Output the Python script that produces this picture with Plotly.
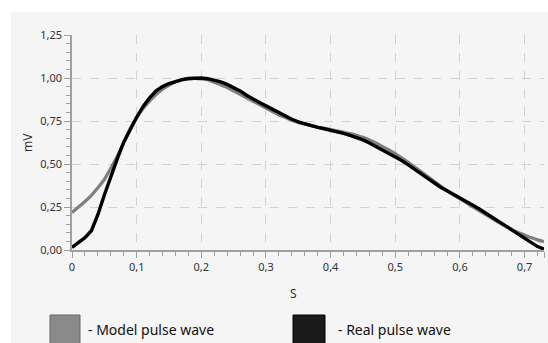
import plotly.graph_objects as go

# Time axis (seconds) shared by both waves
t = [0.00, 0.01, 0.02, 0.03, 0.04, 0.05, 0.06, 0.07, 0.08, 0.09,
     0.10, 0.11, 0.12, 0.13, 0.14, 0.15, 0.16, 0.17, 0.18, 0.19,
     0.20, 0.21, 0.22, 0.23, 0.24, 0.25, 0.26, 0.27, 0.28, 0.29,
     0.30, 0.31, 0.32, 0.33, 0.34, 0.35, 0.36, 0.37, 0.38, 0.39,
     0.40, 0.41, 0.42, 0.43, 0.44, 0.45, 0.46, 0.47, 0.48, 0.49,
     0.50, 0.51, 0.52, 0.53, 0.54, 0.55, 0.56, 0.57, 0.58, 0.59,
     0.60, 0.61, 0.62, 0.63, 0.64, 0.65, 0.66, 0.67, 0.68, 0.69,
     0.70, 0.71, 0.72, 0.73]

# Model pulse wave (mV)
model_wave = [0.218, 0.250, 0.282, 0.318, 0.362, 0.410, 0.475, 0.545, 0.625, 0.705,
              0.770, 0.822, 0.865, 0.903, 0.935, 0.958, 0.976, 0.988, 0.995, 0.998,
              0.995, 0.990, 0.975, 0.960, 0.945, 0.925, 0.905, 0.885, 0.865, 0.845,
              0.825, 0.805, 0.785, 0.770, 0.755, 0.742, 0.732, 0.723, 0.715, 0.708,
              0.700, 0.693, 0.685, 0.677, 0.667, 0.655, 0.640, 0.622, 0.602, 0.582,
              0.560, 0.535, 0.510, 0.482, 0.455, 0.427, 0.400, 0.372, 0.345, 0.320,
              0.298, 0.274, 0.250, 0.228, 0.205, 0.183, 0.160, 0.140, 0.120, 0.102,
              0.087, 0.072, 0.059, 0.048]

# Real (measured) pulse wave (mV)
real_wave = [0.015, 0.045, 0.072, 0.112, 0.205, 0.320, 0.430, 0.530, 0.627, 0.703,
             0.772, 0.835, 0.885, 0.925, 0.950, 0.968, 0.982, 0.991, 0.997, 1.000,
             1.000, 0.996, 0.988, 0.977, 0.963, 0.945, 0.925, 0.900, 0.877, 0.857,
             0.838, 0.818, 0.798, 0.778, 0.760, 0.745, 0.733, 0.722, 0.713, 0.705,
             0.697, 0.688, 0.678, 0.667, 0.655, 0.640, 0.622, 0.602, 0.582, 0.565,
             0.545, 0.520, 0.495, 0.468, 0.442, 0.416, 0.390, 0.365, 0.345, 0.325,
             0.305, 0.282, 0.260, 0.238, 0.214, 0.190, 0.165, 0.140, 0.115, 0.090,
             0.066, 0.042, 0.020, 0.006]

x_tick_vals = [0, 0.1, 0.2, 0.3, 0.4, 0.5, 0.6, 0.7, 0.73]
x_tick_text = ["0", "0,1", "0,2", "0,3", "0,4", "0,5", "0,6", "0,7", "0,73"]
y_tick_vals = [0, 0.25, 0.5, 0.75, 1.0, 1.25]
y_tick_text = ["0,00", "0,25", "0,50", "0,75", "1,00", "1,25"]

legend_labels = ["- Model pulse wave", "- Real pulse wave"]
model_color = "#7f7f7f"
real_color = "#000000"

fig = go.Figure()
fig.add_trace(go.Scatter(x=t, y=model_wave, mode="lines",
                         line=dict(color=model_color, width=3.2, shape="spline", smoothing=0.5),
                         name=legend_labels[0], showlegend=False))
fig.add_trace(go.Scatter(x=t, y=real_wave, mode="lines",
                         line=dict(color=real_color, width=3.4, shape="linear"),
                         name=legend_labels[1], showlegend=False))

axis_col = "#a0a0a0"
grid_col = "#d2d2d2"
tick_font = dict(family="Noto Sans", size=11, color="#333333")

fig.update_xaxes(range=[0, 0.73], tickmode="array", tickvals=x_tick_vals, ticktext=x_tick_text,
                 showline=True, linecolor=axis_col, linewidth=1.5,
                 ticks="outside", ticklen=6, tickcolor=axis_col, tickwidth=1,
                 showgrid=True, gridcolor=grid_col, griddash="dash", gridwidth=1,
                 zeroline=False, tickfont=tick_font,
                 minor=dict(tickmode="linear", tick0=0, dtick=0.02, ticks="outside",
                            ticklen=4, tickcolor=axis_col, showgrid=False))
fig.update_yaxes(range=[0, 1.25], tickmode="array", tickvals=y_tick_vals, ticktext=y_tick_text,
                 showline=True, linecolor=axis_col, linewidth=1.5,
                 ticks="outside", ticklen=6, tickcolor=axis_col, tickwidth=1,
                 showgrid=True, gridcolor=grid_col, griddash="dash", gridwidth=1,
                 zeroline=False, tickfont=tick_font,
                 minor=dict(tickmode="linear", tick0=0, dtick=0.05, ticks="outside",
                            ticklen=4, tickcolor=axis_col, showgrid=False))

W, H = 548, 343
ml, mr, mt, mb = 72, 4, 35, 93
pw, ph = W - ml - mr, H - mt - mb


def px_x(p):
    return (p - ml) / pw


def px_y(p):
    return (H - mb - p) / ph


shapes = [
    # light panel behind the whole chart
    dict(type="rect", xref="paper", yref="paper", layer="below",
         x0=px_x(11), x1=px_x(W + 2), y0=px_y(H + 2), y1=px_y(12),
         fillcolor="#f5f5f5", line=dict(width=0)),
    # legend swatches
    dict(type="rect", xref="paper", yref="paper",
         x0=px_x(50), x1=px_x(80), y0=px_y(345), y1=px_y(315),
         fillcolor="#8a8a8a", line=dict(color="#666666", width=1)),
    dict(type="rect", xref="paper", yref="paper",
         x0=px_x(293), x1=px_x(325), y0=px_y(345), y1=px_y(315),
         fillcolor="#1a1a1a", line=dict(color="#000000", width=1)),
]

title_font = dict(family="Noto Sans", size=12, color="#333333")
legend_font = dict(family="Noto Sans", size=14, color="#111111")
annotations = [
    dict(text="mV", xref="paper", yref="paper", x=px_x(27), y=px_y(143),
         xanchor="center", yanchor="middle", showarrow=False, textangle=-90, font=title_font),
    dict(text="S", xref="paper", yref="paper", x=px_x(293), y=px_y(293),
         xanchor="center", yanchor="middle", showarrow=False, font=title_font),
    dict(text=legend_labels[0], xref="paper", yref="paper", x=px_x(86), y=px_y(329),
         xanchor="left", yanchor="middle", showarrow=False, font=legend_font),
    dict(text=legend_labels[1], xref="paper", yref="paper", x=px_x(336), y=px_y(329),
         xanchor="left", yanchor="middle", showarrow=False, font=legend_font),
]

fig.update_layout(width=W, height=H, margin=dict(l=ml, r=mr, t=mt, b=mb),
                  paper_bgcolor="#ffffff", plot_bgcolor="#f2f2f2",
                  shapes=shapes, annotations=annotations, showlegend=False)

fig.write_html("out.html")
